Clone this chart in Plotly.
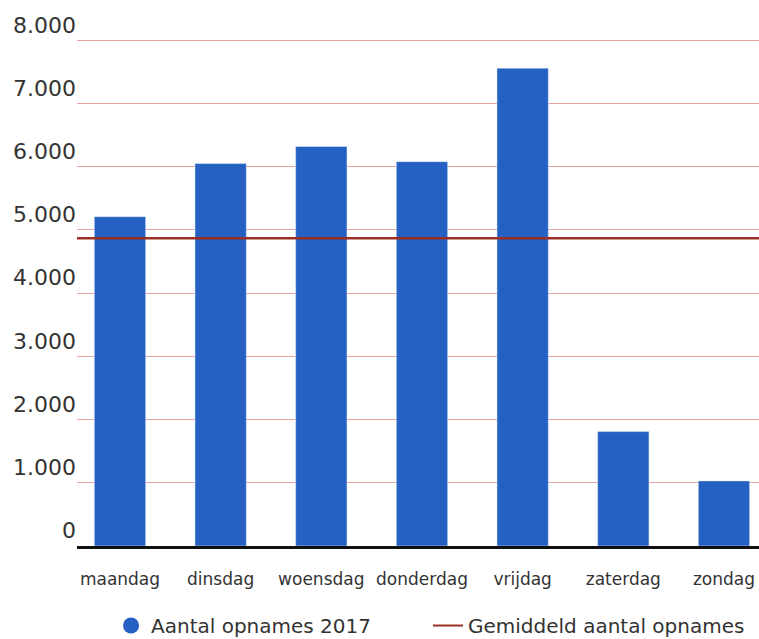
import plotly.graph_objects as go

dagen = ["maandag", "dinsdag", "woensdag", "donderdag", "vrijdag", "zaterdag", "zondag"]
opnames_2017 = [5210, 6050, 6320, 6080, 7560, 1810, 1030]
gemiddeld = 4870
y_ticks = [0, 1000, 2000, 3000, 4000, 5000, 6000, 7000, 8000]
y_labels = ["0", "1.000", "2.000", "3.000", "4.000", "5.000", "6.000", "7.000", "8.000"]

BLUE = "#2461c2"
AVG = "#9c2e24"
GRID = "#e6a3a0"
FONT = "DejaVu Sans"
TXT = "#333333"

fig = go.Figure()
fig.add_trace(go.Bar(x=dagen, y=opnames_2017, marker_color=BLUE, width=0.51,
                     showlegend=False, name="Aantal opnames 2017"))
# legend entries
fig.add_trace(go.Scatter(x=[None], y=[None], mode="markers",
                         marker=dict(symbol="circle", size=16, color=BLUE),
                         name="Aantal opnames 2017", legend="legend"))
fig.add_trace(go.Scatter(x=[None], y=[None], mode="lines",
                         line=dict(color=AVG, width=2),
                         name="Gemiddeld aantal opnames", legend="legend2"))

fig.add_hline(y=gemiddeld, line=dict(color=AVG, width=2.5), layer="above")

leg_common = dict(orientation="h", y=0.0516, yref="container", xanchor="left", yanchor="top",
                  font=dict(size=20, color=TXT), bgcolor="rgba(0,0,0,0)")
fig.update_layout(
    width=759, height=639,
    margin=dict(l=77, r=0, t=34, b=93, autoexpand=False),
    paper_bgcolor="white", plot_bgcolor="white",
    font=dict(family=FONT, color=TXT),
    legend=dict(x=0.0499, **leg_common),
    legend2=dict(x=0.5147, **leg_common),
)
fig.update_xaxes(range=[-0.427, 6.348], showline=True, linecolor="#111111", linewidth=2.5,
                 ticks="", tickfont=dict(size=17, color=TXT), ticklabelstandoff=16,
                 showgrid=False, automargin=False)
fig.update_yaxes(range=[0, 8100], tickvals=y_ticks, ticktext=y_labels,
                 ticklabelposition="outside top", tickfont=dict(size=22, color=TXT),
                 showgrid=True, gridcolor=GRID, gridwidth=1.2, zeroline=False,
                 automargin=False, ticks="")

fig.write_html("out.html", config={"displayModeBar": False},
               post_script="document.body.style.margin='0';")
